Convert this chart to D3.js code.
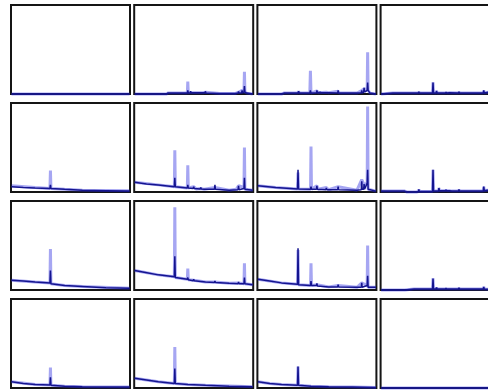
<!DOCTYPE html>
<html>
<head>
<meta charset="utf-8">
<script src="https://cdn.jsdelivr.net/npm/d3@7"></script>
<style>
  html, body { margin: 0; padding: 0; background: #fff; }
  #grid { width: 488px; height: 390px; overflow: hidden; }
</style>
</head>
<body>
<div id="grid"></div>
<script>
// x and y are in percent of the panel axes (0..100)
const rows = [0, 1, 2, 3]
const cols = [0, 1, 2, 3]

const flat = [[0, 0], [100, 0]]

const dark01 = [[0,0],[27,0],[28,1],[42,1],[44.6,1],[45,4],[45.4,1],[47,1.5],[47.4,3],[47.8,1.5],[58,1.5],[59.6,1.5],[60,3],[60.4,1],[72,0.5],[85,0.5],[87.6,1],[88,3],[88.4,1],[90.6,1],[91,4],[91.4,1],[92.6,2],[93,9],[93.4,2],[95,1],[100,0]]
const light01 = [[0,0],[27,0],[28,1],[42,1],[44.6,1],[45,14],[45.4,1],[47,1.5],[58,1.5],[60,2],[72,0.5],[85,0.5],[88,2],[91,4],[92.6,2],[93,25],[93.4,2],[95,1],[100,0]]

const dark02 = [[0,0],[20,0],[22,1],[34,1],[34.5,3],[35,1],[44,1],[44.5,4],[45,1],[49.6,1],[50,4],[50.4,1.5],[53,2],[53.4,1.5],[58,1.5],[60,1.5],[67.6,1],[68,4],[68.4,1],[84,1],[87.6,1],[88,4],[88.4,1],[89.6,2],[90,7],[90.4,2],[92.6,4],[93,13],[93.4,4],[95,1],[100,0]]
const light02 = [[0,0],[20,0],[22,1],[34,1],[34.5,3],[35,1],[44,1],[44.5,26],[45,1],[50,3.5],[51,1.5],[58,2],[60,1.5],[68,3],[69,1],[84,1],[88,4],[90,6],[92.6,4],[93,47],[93.4,4],[95,1],[100,0]]

const dark03 = [[0,0],[10,1],[25,1],[29,1],[31.6,1],[32,2.5],[32.4,1],[43.6,1],[44,13],[44.4,1],[46.6,1],[47,3.5],[47.4,1],[54.6,1],[55,2],[55.4,1],[58,1.5],[65.6,1],[66,2.5],[66.4,1],[84,1],[86.6,1],[87,4],[87.4,1],[93,2.5],[100,0]]

const dark10 = [[0,6],[10,5],[20,4.5],[32.6,4],[33,8],[33.4,4],[45,3],[60,2],[80,1.5],[100,1]]
const light10 = [[0,7],[20,5],[32.6,4],[33,24],[33.4,4],[45,3],[60,2],[100,1.5]]

const dark11 = [[0,11],[10,9],[20,8],[33.6,6],[34,16],[34.4,6],[44.6,4.5],[45,8],[45.4,4.5],[49.6,4],[50,6],[50.4,4],[55.6,3.5],[56,5],[56.4,3.5],[59,3],[67.6,3],[68,8],[68.4,3],[80,2],[87.6,2.5],[88,7],[88.4,2.5],[92.6,4],[93,16],[93.4,3],[100,2]]
const light11 = [[0,11],[20,8],[33.6,6],[34,47],[34.4,6],[44.6,4.5],[45,30],[45.4,4.5],[50,6],[52,3.5],[56,4],[59,3],[68,5],[80,2],[86,3],[88,7],[92.6,5],[93,50],[93.4,3],[100,2]]

const dark12 = [[0,7],[15,5],[33.6,3.5],[34,25],[34.4,3.5],[44.6,3],[45,6],[45.4,3],[49.6,3],[50,7],[50.4,3],[57.6,2.5],[58,4.5],[58.4,2.5],[67.6,2.5],[68,6],[68.4,2.5],[84,2],[87.6,2.5],[88,12],[88.4,3],[89.6,3],[90,9],[90.4,3],[92.6,10],[93,25],[93.4,3],[100,1]]
const light12 = [[0,7],[15,5],[33.6,3.5],[34,22],[34.4,3.5],[44.6,3],[45,51],[45.4,3],[50,7],[51,3],[58,5],[60,2.5],[68,6],[84,2],[88,14],[90,8],[92.6,10],[93,96],[93.4,3],[100,1]]

const dark13 = [[0,1],[20,1],[22,0],[30,0],[31.6,0.5],[32,3],[32.4,0.5],[43.6,0.5],[44,25],[44.4,1],[48.6,1],[49,4.5],[49.4,1.5],[54.6,1.5],[55,2.5],[55.4,1.5],[58,1.5],[60,1],[65.6,1],[66,3],[66.4,1],[84,1],[86.6,1],[87,6],[87.4,1.5],[90,2],[100,1]]

const dark20 = [[0,11],[10,10],[20,9],[32.6,8],[33,22],[33.4,7],[45,5],[60,4],[80,2.5],[100,2]]
const light20 = [[0,11],[20,9],[32.6,8],[33,46],[33.4,7],[45,5],[60,4],[100,2]]

const dark21 = [[0,22],[8,20],[20,17],[33.6,15],[34,38],[34.4,14],[44.6,12],[45,14],[45.4,11.5],[49.6,10.5],[50,12],[50.4,10.5],[60,9],[67.6,8.5],[68,10],[68.4,8.5],[80,7.5],[87.6,7],[88,9],[88.4,7],[92.6,7],[93,14],[93.4,7],[100,6]]
const light21 = [[0,22],[20,17],[33.6,15],[34,93],[34.4,14],[44.6,12],[45,24],[45.4,11.5],[50,11],[60,9],[68,9],[80,7.5],[88,8],[92.6,7],[93,30],[93.4,7],[100,6]]

const dark22 = [[0,12],[10,10],[20,8],[33.6,6.5],[34,47],[34.4,6],[44.6,5],[45,10],[45.4,5],[49.6,5],[50,7.5],[50.4,4.5],[60,3.5],[67.6,3.5],[68,6],[68.4,3.5],[84,3],[87.6,3],[88,8],[88.4,3],[92.6,5],[93,16],[93.4,3],[100,3]]
const light22 = [[0,12],[20,8],[33.6,6.5],[34,45],[34.4,6],[44.6,5],[45,30],[45.4,5],[50,6],[60,3.5],[68,5],[84,3],[88,8],[92.6,5],[93,50],[93.4,3],[100,3]]

const dark23 = [[0,0],[20,0],[28,1],[42,1],[43.6,1],[44,13],[44.4,1],[46.6,1],[47,3],[47.4,1],[54.6,1],[55,2],[55.4,1],[60,1],[65.6,1],[66,2.5],[66.4,1],[84,1],[86.6,1],[87,3.5],[87.4,1],[100,0]]

const dark30 = [[0,7],[10,5],[20,4],[32.6,3.5],[33,12],[33.4,3],[45,2],[60,1.5],[80,1],[100,1]]
const light30 = [[0,7],[20,4],[32.6,3.5],[33,23],[33.4,3],[45,2],[60,1.5],[100,1]]

const dark31 = [[0,11],[10,9],[20,7],[33.6,5],[34,22],[34.4,5],[45,4],[60,3],[80,2],[100,1.5]]
const light31 = [[0,11],[20,7],[33.6,5],[34,46],[34.4,5],[45,4],[60,3],[100,1.5]]

const dark32 = [[0,7],[10,5],[20,4],[33.6,3],[34,24],[34.4,3],[45,2],[60,1.5],[80,1],[100,0.5]]

// one entry per panel, row by row
const darkSeries = [
  flat, dark01, dark02, dark03,
  dark10, dark11, dark12, dark13,
  dark20, dark21, dark22, dark23,
  dark30, dark31, dark32, flat
]
const lightSeries = [
  flat, light01, light02, dark03,
  light10, light11, light12, dark13,
  light20, light21, light22, dark23,
  light30, light31, dark32, flat
]

const width = 488
const height = 390
const panel = { width: 119, height: 89 }

const svg = d3.select('#grid')
  .append('svg')
  .attr('width', width)
  .attr('height', height)

const colX = d3.scaleLinear().domain([0, 1]).range([11, 134.2])
const rowY = d3.scaleLinear().domain([0, 1]).range([5, 103])

const x = d3.scaleLinear().domain([0, 100]).range([0.5, panel.width - 0.5])
const y = d3.scaleLinear().domain([0, 100]).range([panel.height, 0])

const line = d3.line()
  .x(d => x(d[0]))
  .y(d => y(d[1]))

rows.forEach(r => {
  cols.forEach(c => {
    const i = r * 4 + c
    const g = svg.append('g')
      .attr('transform', `translate(${colX(c)}, ${rowY(r)})`)

    // frame
    g.append('rect')
      .attr('width', panel.width)
      .attr('height', panel.height)
      .attr('fill', '#fff')
      .attr('stroke', '#151515')
      .attr('stroke-width', 2)

    // light series (wide, transparent)
    g.append('path')
      .datum(lightSeries[i])
      .attr('d', line)
      .attr('fill', 'none')
      .attr('stroke', '#2a2ae0')
      .attr('stroke-opacity', 0.42)
      .attr('stroke-width', 3)
      .attr('stroke-linejoin', 'bevel')

    // dark series
    g.append('path')
      .datum(darkSeries[i])
      .attr('d', line)
      .attr('fill', 'none')
      .attr('stroke', '#14148f')
      .attr('stroke-width', 1.5)
      .attr('stroke-linejoin', 'bevel')
  })
})
</script>
</body>
</html>
